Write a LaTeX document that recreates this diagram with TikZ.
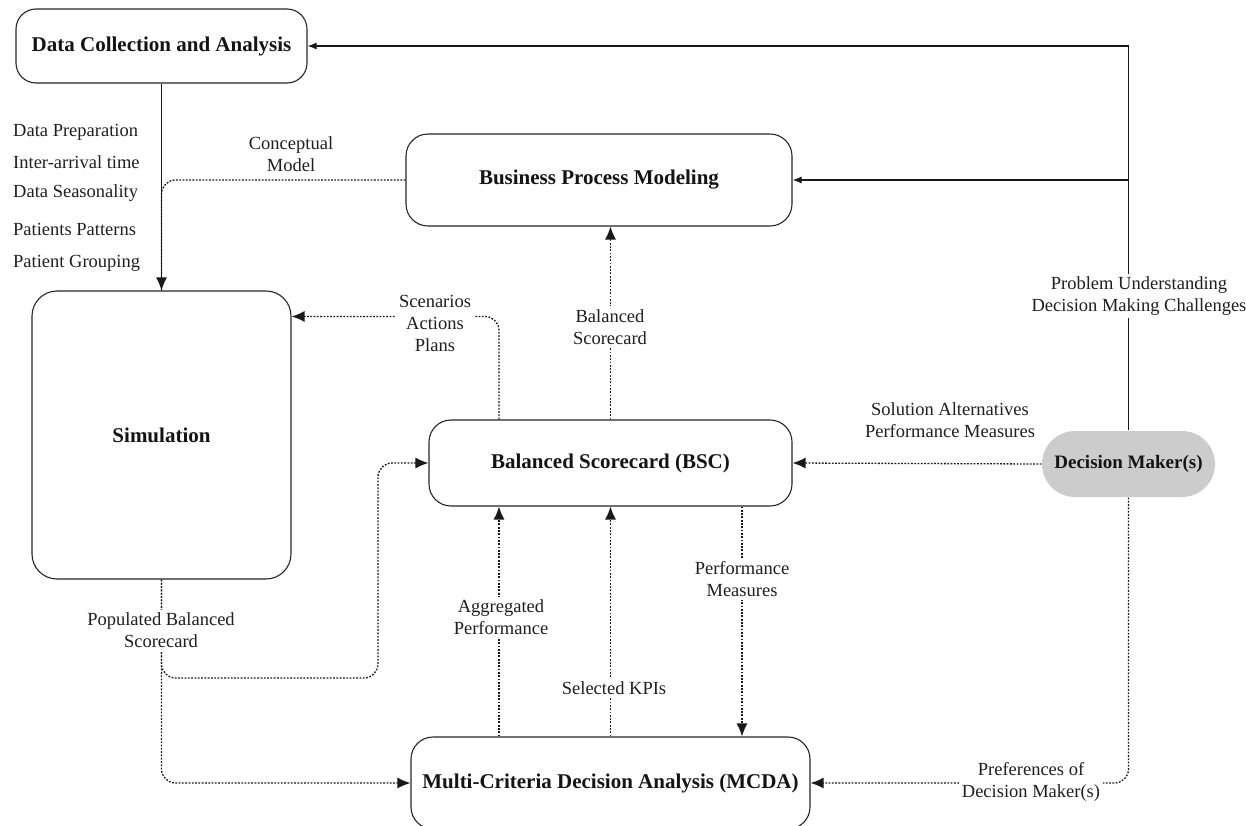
\documentclass[tikz,border=0pt]{standalone}
\usepackage{fontspec}
\setmainfont{Liberation Serif}
\usetikzlibrary{arrows.meta,calc}
\begin{document}
\begin{tikzpicture}[x=1pt,y=-1pt,
  box/.style={draw=black!85, line width=1.1pt, rounded corners=22pt, fill=white,
    font=\fontsize{21}{25}\selectfont\bfseries, text=black!92, align=center, inner sep=0pt},
  lbl/.style={font=\fontsize{18.5}{22}\selectfont, align=center, text=black!88, inner sep=1pt},
  wlbl/.style={lbl, fill=white, inner sep=3pt},
  flow/.style={draw=black!90, line width=1.1pt, -{Latex[length=13pt,width=11pt]}},
  feed/.style={draw=black!90, line width=1.1pt, -{Latex[length=9pt,width=7pt]}},
  dotline/.style={draw=black!90, line width=1.3pt, dash pattern=on 1.8pt off 1.5pt},
  dotflow/.style={dotline, -{Latex[length=13pt,width=11pt]}},
]
\useasboundingbox (0,0) rectangle (1246,825);

% main process boxes
\node[box, minimum width=291pt, minimum height=74pt, rounded corners=20pt] (dc) at (161.5,46) {Data Collection and Analysis};
\node[box, minimum width=386pt, minimum height=92pt] (bpm) at (599,180) {Business Process Modeling};
\node[box, minimum width=259pt, minimum height=288pt, rounded corners=25pt] (sim) at (161.5,435) {Simulation};
\node[box, minimum width=363pt, minimum height=86pt] (bsc) at (610.5,463) {Balanced Scorecard (BSC)};
\node[box, draw=none, fill=black!20, minimum width=173pt, minimum height=66pt, rounded corners=33pt,
  font=\fontsize{19}{22}\selectfont\bfseries] (dm) at (1128.5,464) {Decision Maker(s)};
\node[box, minimum width=399pt, minimum height=92pt] (mcda) at (610.5,783) {Multi-Criteria Decision Analysis (MCDA)};

\coordinate (pbend) at (378,678);

% connectors
\draw[dotline, rounded corners=14pt] (bpm.west) -| (sim.north);
\draw[flow] (dc.south) -- (sim.north);
\draw[feed] (dm.north) |- (dc.east);
\draw[feed] (dm.north |- bpm.east) -- (bpm.east);
\draw[dotflow, rounded corners=14pt] ([xshift=-111.5pt]bsc.north) |- ([yshift=-26pt]sim.north east);
\draw[dotflow] (bsc.north) -- (bsc.north |- bpm.south);
\draw[dotflow, rounded corners=14pt] (sim.south) |- (pbend) |- (bsc.west);
\draw[dotflow, rounded corners=14pt] (sim.south) |- (mcda.west);
\draw[dotflow] (dm.west) -- (bsc.east);
\draw[dotflow, rounded corners=14pt] (dm.south) |- (mcda.east);
\draw[dotflow] ([xshift=-111.5pt]mcda.north) -- ([xshift=-111.5pt]bsc.south);
\draw[dotflow] (mcda.north) -- (bsc.south);
\draw[dotflow] ([xshift=131.5pt]bsc.south) -- ([xshift=131.5pt]mcda.north);

% data preparation items
\node[lbl, anchor=base west] (d1) at (12,136) {Data Preparation};
\node[lbl, anchor=base west] (d2) at (12,168) {Inter-arrival time};
\node[lbl, anchor=base west] (d3) at (12,197) {Data Seasonality};
\node[lbl, anchor=base west] (d4) at (12,235) {Patients Patterns};
\node[lbl, anchor=base west] (d5) at (12,267) {Patient Grouping};

% connector labels
\node[lbl] (cm) at (291,154) {Conceptual\\Model};
\node[wlbl] (pu) at (1139,296) {Problem Understanding\\Decision Making Challenges};
\node[wlbl] (sap) at (435,323) {Scenarios\\Actions\\Plans};
\node[wlbl] (bsl) at (610,327) {Balanced\\Scorecard};
\node[lbl] (sa) at (950,420) {Solution Alternatives\\Performance Measures};
\node[wlbl] (pbs) at (161,630) {Populated Balanced\\Scorecard};
\node[wlbl] (pm) at (742,579) {Performance\\Measures};
\node[wlbl] (ap) at (501,617) {Aggregated\\Performance};
\node[wlbl] (kpi) at (614,688) {Selected KPIs};
\node[wlbl] (pref) at (1031,782) {Preferences of\\Decision Maker(s)};
\end{tikzpicture}
\end{document}
